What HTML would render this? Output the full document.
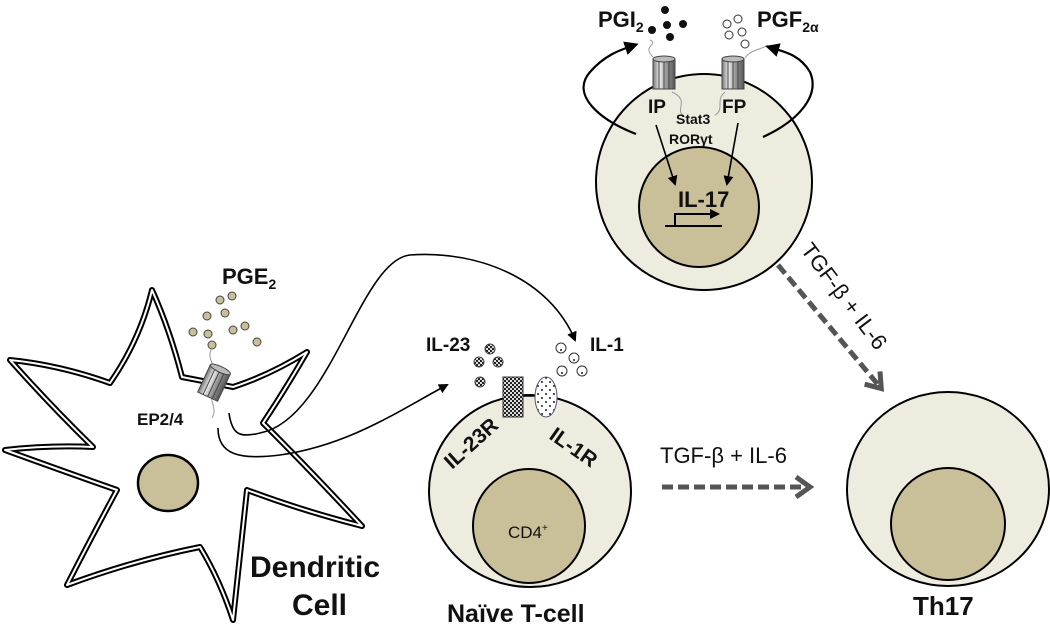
<!DOCTYPE html>
<html><head><meta charset="utf-8"><style>
html,body{margin:0;padding:0;background:#fff;}
svg{display:block;font-family:"Liberation Sans",Arial,sans-serif;}
.b{font-weight:bold;fill:#111;}
</style></head><body>
<svg width="1050" height="628" viewBox="0 0 1050 628" xmlns="http://www.w3.org/2000/svg">
<defs>
<marker id="ah" markerWidth="10" markerHeight="10" refX="8" refY="5" orient="auto" markerUnits="userSpaceOnUse"><path d="M0,0 L10,5 L0,10 z" fill="#000"/></marker>
<marker id="ah2" markerWidth="14" markerHeight="14" refX="7" refY="7" orient="auto" markerUnits="userSpaceOnUse"><path d="M0,0 L14,7 L0,14 z" fill="#000"/></marker>
<marker id="open" markerWidth="22" markerHeight="24" refX="15" refY="12" orient="auto" markerUnits="userSpaceOnUse"><path d="M3,2 L17,12 L3,22" fill="none" stroke="#555" stroke-width="5"/></marker>
<pattern id="chk" width="4" height="4" patternUnits="userSpaceOnUse"><rect width="4" height="4" fill="#ddd"/><rect width="2" height="2" fill="#222"/><rect x="2" y="2" width="2" height="2" fill="#222"/></pattern>
<pattern id="dots" width="8" height="8" patternUnits="userSpaceOnUse"><rect width="8" height="8" fill="#fff"/><circle cx="2" cy="2" r="1" fill="#222"/><circle cx="6" cy="6" r="1" fill="#222"/></pattern>
<linearGradient id="cyl" x1="0" x2="1"><stop offset="0" stop-color="#777"/><stop offset=".3" stop-color="#eee"/><stop offset=".6" stop-color="#999"/><stop offset="1" stop-color="#555"/></linearGradient>
<g id="rec"><rect x="-11" y="-15" width="22" height="30" fill="url(#cyl)" stroke="#444" stroke-width="1"/><line x1="-5" y1="-15" x2="-5" y2="15" stroke="#444"/><line x1="0" y1="-15" x2="0" y2="15" stroke="#444"/><line x1="5" y1="-15" x2="5" y2="15" stroke="#444"/><ellipse cx="0" cy="-15" rx="11" ry="3" fill="#bbb" stroke="#444"/></g>
<path id="star" d="M182,377 Q170,330 152,290 Q140,340 110,383 Q60,365 10,360 Q50,405 93,447 Q50,445 5,450 Q60,470 117,490 Q90,540 67,585 Q135,560 200,547 Q220,580 233,620 Q240,555 247,490 Q300,510 362,526 Q310,470 263,423 Q285,390 307,352 Q270,375 233,387 L213,383 Z"/>
</defs>

<!-- Dendritic cell -->
<use href="#star" fill="#fff" stroke="#000" stroke-width="6" stroke-linejoin="round"/>
<use href="#star" fill="none" stroke="#fff" stroke-width="2" stroke-linejoin="round"/>
<ellipse cx="168" cy="483" rx="30" ry="28" fill="#c9c09a" stroke="#000" stroke-width="2.5"/>
<g fill="#c9c09a" stroke="#444" stroke-width="1">
<circle cx="220" cy="300" r="4"/><circle cx="232" cy="296" r="4"/><circle cx="207" cy="316" r="4"/><circle cx="225" cy="313" r="4"/><circle cx="193" cy="332" r="4"/><circle cx="208" cy="334" r="4"/><circle cx="212" cy="345" r="4"/><circle cx="233" cy="330" r="4"/><circle cx="245" cy="326" r="4"/><circle cx="257" cy="342" r="4"/>
</g>
<path d="M212,348 C205,360 218,365 213,375" fill="none" stroke="#999" stroke-width="1"/>
<path d="M213,393 C208,400 218,408 212,418" fill="none" stroke="#999" stroke-width="1"/>
<use href="#rec" transform="translate(214,383) rotate(25)"/>
<text x="222" y="284" class="b" font-size="22">PGE<tspan font-size="14" dy="5">2</tspan></text>
<text x="137" y="425" class="b" font-size="17">EP2/4</text>
<text x="250" y="577" class="b" font-size="30">Dendritic</text>
<text x="292" y="615" class="b" font-size="30">Cell</text>

<!-- DC arrows -->
<path d="M229,413 C232,435 240,438 260,433 C330,420 360,260 410,255 C480,250 550,280 575,340" fill="none" stroke="#000" stroke-width="1.6" marker-end="url(#ah)"/>
<path d="M218,428 C218,455 240,460 280,455 C350,445 400,410 447,385" fill="none" stroke="#000" stroke-width="1.6" marker-end="url(#ah)"/>

<!-- Naive T cell -->
<ellipse cx="530" cy="491" rx="101" ry="96" fill="#eeebdf" stroke="#000" stroke-width="2"/>
<ellipse cx="529" cy="526" rx="56" ry="57" fill="#c9c09a" stroke="#000" stroke-width="2"/>
<text x="508" y="538" font-size="17" fill="#111">CD4<tspan font-size="10" dy="-7">+</tspan></text>
<line x1="523" y1="396" x2="538" y2="396" stroke="#000" stroke-width="1.5"/>
<rect x="503" y="377" width="20" height="40" fill="url(#chk)" stroke="#333" stroke-width="1"/>
<ellipse cx="546" cy="397" rx="11" ry="20" fill="url(#dots)" stroke="#557" stroke-width="1"/>
<g fill="url(#chk)" stroke="#444" stroke-width="1"><circle cx="490" cy="349" r="5"/><circle cx="479" cy="362" r="5"/><circle cx="498" cy="362" r="5"/><circle cx="480" cy="382" r="5"/></g>
<g fill="#fff" stroke="#333" stroke-width="1"><circle cx="561" cy="348" r="5"/><circle cx="574" cy="358" r="5"/><circle cx="562" cy="371" r="5"/><circle cx="582" cy="371" r="5"/></g>
<g fill="#222"><circle cx="561" cy="350" r="1"/><circle cx="574" cy="360" r="1"/><circle cx="562" cy="373" r="1"/><circle cx="582" cy="373" r="1"/></g>
<text x="426" y="351" class="b" font-size="19">IL-23</text>
<text x="590" y="351" class="b" font-size="19">IL-1</text>
<text transform="translate(452,470) rotate(-42)" class="b" font-size="21">IL-23R</text>
<text transform="translate(548,438) rotate(35)" class="b" font-size="21">IL-1R</text>
<text x="447" y="622" class="b" font-size="25">Naïve T-cell</text>

<!-- Top cell -->
<circle cx="704" cy="182" r="108" fill="#eeebdf" stroke="#000" stroke-width="2"/>
<circle cx="699" cy="207" r="60" fill="#c9c09a" stroke="#000" stroke-width="2"/>
<use href="#rec" transform="translate(664,74)"/>
<use href="#rec" transform="translate(733,74)"/>
<path d="M654,58 C640,45 660,45 650,40" fill="none" stroke="#999"/>
<path d="M745,58 C750,50 760,50 768,45" fill="none" stroke="#999"/>
<path d="M672,92 C690,100 675,110 683,115" fill="none" stroke="#999"/>
<path d="M725,92 C715,100 725,110 715,115" fill="none" stroke="#999"/>
<g fill="#111"><circle cx="665" cy="10" r="4"/><circle cx="652" cy="30" r="4"/><circle cx="667" cy="25" r="4"/><circle cx="683" cy="24" r="4"/><circle cx="670" cy="37" r="4"/></g>
<g fill="#fff" stroke="#333"><circle cx="727" cy="24" r="4"/><circle cx="738" cy="19" r="4"/><circle cx="742" cy="32" r="4"/><circle cx="729" cy="35" r="4"/><circle cx="745" cy="44" r="4"/></g>
<text x="598" y="27" class="b" font-size="22">PGI<tspan font-size="14" dy="5">2</tspan></text>
<text x="757" y="27" class="b" font-size="22">PGF<tspan font-size="14" dy="5">2α</tspan></text>
<text x="648" y="113" class="b" font-size="19">IP</text>
<text x="722" y="113" class="b" font-size="19">FP</text>
<text x="676" y="124" class="b" font-size="14">Stat3</text>
<text x="669" y="144" class="b" font-size="14">RORγt</text>
<text x="678" y="207" class="b" font-size="22">IL-17</text>
<path d="M665,226 L675,226 L675,214 L718,214" fill="none" stroke="#000" stroke-width="2" marker-end="url(#ah)"/>
<line x1="665" y1="226" x2="722" y2="226" stroke="#000" stroke-width="2"/>
<line x1="656" y1="125" x2="675" y2="184" stroke="#000" stroke-width="1.6" marker-end="url(#ah)"/>
<line x1="738" y1="123" x2="727" y2="184" stroke="#000" stroke-width="1.6" marker-end="url(#ah)"/>
<path d="M636,134 C600,120 570,95 590,72 C605,55 620,50 632,46" fill="none" stroke="#000" stroke-width="2.2" marker-end="url(#ah2)"/>
<path d="M763,137 C800,120 820,95 810,72 C800,55 785,52 772,48" fill="none" stroke="#000" stroke-width="2.2" marker-end="url(#ah2)"/>

<!-- dashed arrows -->
<line x1="662" y1="487" x2="808" y2="487" stroke="#555" stroke-width="5" stroke-dasharray="11,5" marker-end="url(#open)"/>
<text x="660" y="463" font-size="22" fill="#111">TGF-β + IL-6</text>
<line x1="778" y1="265" x2="880" y2="387" stroke="#555" stroke-width="5" stroke-dasharray="11,5" marker-end="url(#open)"/>
<text transform="translate(800,250) rotate(53)" font-size="22" fill="#111">TGF-β + IL-6</text>

<!-- Th17 -->
<ellipse cx="948" cy="489" rx="101" ry="97" fill="#eeebdf" stroke="#000" stroke-width="2"/>
<ellipse cx="948" cy="524" rx="57" ry="56" fill="#c9c09a" stroke="#000" stroke-width="2"/>
<text x="913" y="615" class="b" font-size="26">Th17</text>
</svg>
</body></html>
